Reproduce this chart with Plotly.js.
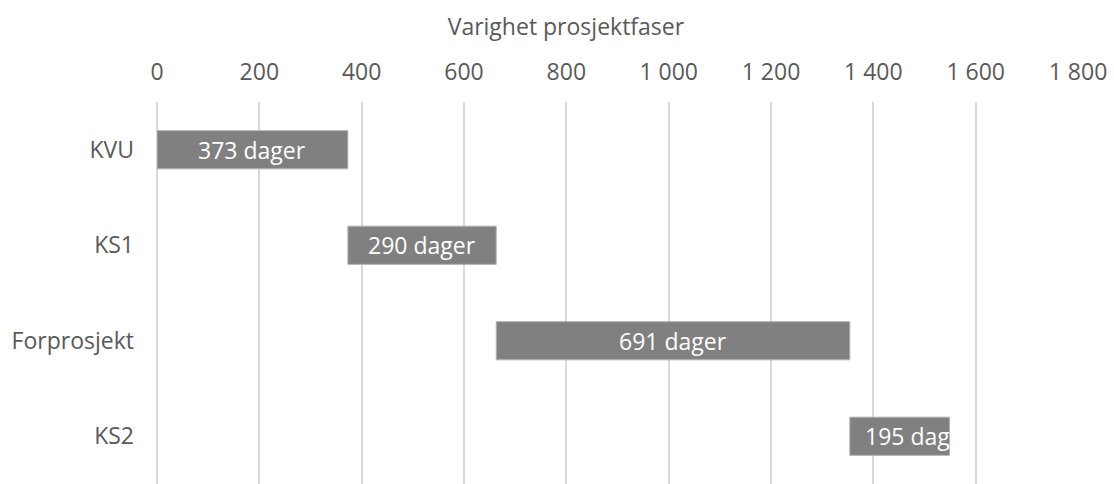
<!DOCTYPE html>
<html>
<head>
<meta charset="utf-8">
<script src="https://cdn.plot.ly/plotly-3.0.1.min.js"></script>
<style>html,body{margin:0;padding:0;background:#fff;}#chart{width:1114px;height:484px;}</style>
</head>
<body>
<div id="chart"></div>
<script>
const phases = ["KVU", "KS1", "Forprosjekt", "KS2"];
const durations = [373, 290, 691, 195];
const labelSuffix = " dager";
const xTicks = [0, 200, 400, 600, 800, 1000, 1200, 1400, 1600, 1800];

const starts = [];
let acc = 0;
durations.forEach(d => { starts.push(acc); acc += d; });

const FONT = "Open Sans";
const grey = "#595959";

const trace = {
  type: "bar",
  orientation: "h",
  y: phases,
  x: durations,
  base: starts,
  width: 0.4,
  marker: { color: "#808080", line: { color: "#b3b3b3", width: 1 } },
  hoverinfo: "none",
  textposition: "none"
};

const annotations = phases.map((p, i) => ({
  x: starts[i] + durations[i] / 2,
  y: p,
  xref: "x", yref: "y",
  text: durations[i] + labelSuffix,
  showarrow: false,
  xanchor: "center", yanchor: "middle",
  xshift: i === phases.length - 1 ? 19 : 0,
  font: { family: FONT, size: 23, color: "#ffffff" }
}));

const layout = {
  width: 1114, height: 484,
  margin: { l: 157, r: 36, t: 102, b: 0, pad: 0 },
  paper_bgcolor: "#ffffff", plot_bgcolor: "#ffffff",
  separators: ", ",
  showlegend: false,
  font: { family: FONT, size: 23, color: grey },
  title: {
    text: "Varighet prosjektfaser",
    font: { family: FONT, size: 23, color: grey },
    x: 0.508, xanchor: "center", xref: "container",
    y: 1 - 27 / 484, yanchor: "middle", yref: "container"
  },
  xaxis: {
    side: "top",
    range: [0, 1800],
    tickvals: xTicks,
    tickformat: ",d",
    showgrid: true, gridcolor: "#d9d9d9", gridwidth: 2,
    zeroline: true, zerolinecolor: "#d9d9d9", zerolinewidth: 2,
    showline: false, ticks: "",
    ticklabelstandoff: 16,
    tickfont: { family: FONT, size: 23, color: grey },
    fixedrange: true
  },
  yaxis: {
    type: "category",
    categoryorder: "array", categoryarray: phases,
    autorange: "reversed",
    showgrid: false, zeroline: false, showline: false, ticks: "",
    ticklabelstandoff: 22,
    tickfont: { family: FONT, size: 23, color: grey },
    fixedrange: true
  },
  annotations: annotations
};

Plotly.newPlot("chart", [trace], layout, { displayModeBar: false, staticPlot: true });
</script>
</body>
</html>
